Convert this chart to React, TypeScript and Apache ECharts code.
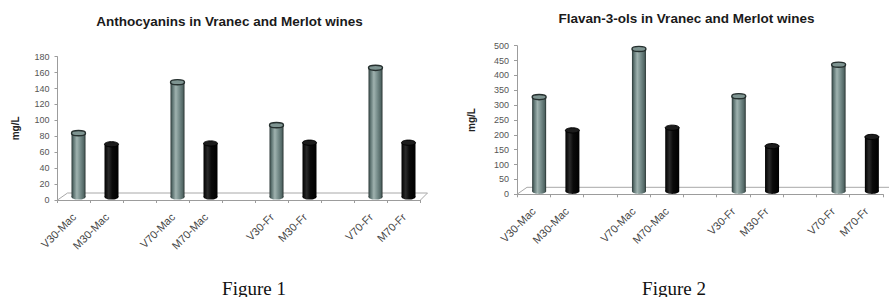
import React, { useEffect, useRef } from "react";
import * as echarts from "echarts";

// ---- data ----
const categories = ["V30-Mac", "M30-Mac", "", "V70-Mac", "M70-Mac", "", "V30-Fr", "M30-Fr", "", "V70-Fr", "M70-Fr"];
const anthocyanins: (number | null)[] = [84, 70, null, 148, 71, null, 94, 72, null, 166, 72];
const flavan3ols: (number | null)[] = [327, 215, null, 489, 224, null, 330, 162, null, 436, 193];
const title1 = "Anthocyanins in Vranec and Merlot wines";
const title2 = "Flavan-3-ols in Vranec and Merlot wines";
const yName = "mg/L";
const fig1 = "Figure 1";
const fig2 = "Figure 2";

const SANS = "'Liberation Sans', Arial, sans-serif";
const SERIF = "'Liberation Serif', 'Times New Roman', serif";

const vGrad = () =>
  new echarts.graphic.LinearGradient(0, 0, 1, 0, [
    { offset: 0, color: "#2b3837" },
    { offset: 0.15, color: "#5f7573" },
    { offset: 0.38, color: "#9fb2af" },
    { offset: 0.62, color: "#788e8c" },
    { offset: 0.88, color: "#526765" },
    { offset: 1, color: "#252f2d" },
  ]);
const mGrad = () =>
  new echarts.graphic.LinearGradient(0, 0, 1, 0, [
    { offset: 0, color: "#000000" },
    { offset: 0.3, color: "#2a2a2a" },
    { offset: 0.55, color: "#0a0a0a" },
    { offset: 1, color: "#000000" },
  ]);

const makeRender = (offset: number) => (params: any, api: any) => {
  const idx = api.value(0);
  const val = api.value(1);
  if (val == null || isNaN(val)) return null;
  const top = api.coord([idx, val]);
  const base = api.coord([idx, 0]);
  const w = 14;
  const ry = 2.6;
  const cx = top[0] + offset;
  const yb = base[1] - 3;
  const yt = top[1];
  const isV = String(categories[idx]).startsWith("V");
  return {
    type: "group",
    children: [
      { type: "rect", shape: { x: cx - w / 2, y: yt, width: w, height: yb - yt }, style: { fill: isV ? vGrad() : mGrad() } },
      { type: "ellipse", shape: { cx, cy: yb, rx: w / 2, ry }, style: { fill: isV ? vGrad() : mGrad() } },
      {
        type: "ellipse",
        shape: { cx, cy: yt, rx: w / 2, ry },
        style: isV
          ? { fill: "#7e9491", stroke: "#26302f", lineWidth: 1.4 }
          : { fill: "#1c1c1c", stroke: "#000", lineWidth: 1 },
      },
    ],
  };
};

const toData = (vals: (number | null)[]) =>
  vals.map((v, i) => (v == null ? null : [i, v])).filter((d) => d !== null);

const G1 = { left: 57.5, top: 56.7, width: 363, height: 143.3 };
const G2 = { left: 517, top: 45.7, width: 366, height: 148.6 };

const axisColor = "#9c9c9c";

const xAxisCfg = (gridIndex: number) => ({
  type: "category",
  gridIndex,
  data: categories,
  boundaryGap: true,
  axisLine: { show: true, lineStyle: { color: axisColor, width: 1 } },
  axisTick: { show: true, length: 3, lineStyle: { color: axisColor }, interval: 0 },
  axisLabel: { interval: 0, rotate: 45, margin: 15, fontSize: 11, color: "#444", fontFamily: SANS },
  splitLine: { show: false },
});

const yAxisCfg = (gridIndex: number, max: number, interval: number, nameGap: number) => ({
  type: "value",
  gridIndex,
  min: 0,
  max,
  interval,
  name: yName,
  nameLocation: "middle",
  nameGap,
  nameTextStyle: { fontSize: 10, fontWeight: "bold", color: "#222", fontFamily: SANS },
  axisLine: { show: true, lineStyle: { color: axisColor, width: 1 } },
  axisTick: { show: true, length: 3, lineStyle: { color: axisColor } },
  axisLabel: { fontSize: 9, color: "#555", margin: 8, fontFamily: SANS },
  splitLine: { show: false },
});

export default function App() {
  const ref = useRef<HTMLDivElement>(null);
  useEffect(() => {
    if (!ref.current) return;
    const chart = echarts.init(ref.current, undefined, { renderer: "svg" });
    const g1b = G1.top + G1.height;
    const g2b = G2.top + G2.height;
    chart.setOption({
      animation: false,
      backgroundColor: "#ffffff",
      grid: [
        { ...G1, containLabel: false, outerBoundsMode: "none" },
        { ...G2, containLabel: false, outerBoundsMode: "none" },
      ],
      xAxis: [xAxisCfg(0), xAxisCfg(1)],
      yAxis: [yAxisCfg(0, 180, 20, 37), yAxisCfg(1, 500, 50, 41)],
      series: [
        { type: "custom", xAxisIndex: 0, yAxisIndex: 0, renderItem: makeRender(4.5), encode: { x: 0, y: 1 }, data: toData(anthocyanins), z: 5 },
        { type: "custom", xAxisIndex: 1, yAxisIndex: 1, renderItem: makeRender(5.5), encode: { x: 0, y: 1 }, data: toData(flavan3ols), z: 5 },
      ],
      graphic: [
        {
          type: "polyline",
          shape: { points: [[G1.left, g1b], [G1.left + 10, g1b - 7], [G1.left + G1.width + 7, g1b - 7], [G1.left + G1.width, g1b]] },
          style: { stroke: "#a8a8a8", fill: "none", lineWidth: 1 },
          z: 1,
        },
        {
          type: "polyline",
          shape: { points: [[G2.left, g2b], [G2.left + 10, g2b - 7], [889, g2b - 7]] },
          style: { stroke: "#a8a8a8", fill: "none", lineWidth: 1 },
          z: 1,
        },
        { type: "text", x: 229.5, y: 21, style: { text: title1, font: `bold 13.5px ${SANS}`, fill: "#1a1a1a", textAlign: "center", textVerticalAlign: "middle" } },
        { type: "text", x: 686.5, y: 18, style: { text: title2, font: `bold 13.5px ${SANS}`, fill: "#1a1a1a", textAlign: "center", textVerticalAlign: "middle" } },
        { type: "text", x: 254, y: 288, style: { text: fig1, font: `19px ${SERIF}`, fill: "#111", textAlign: "center", textVerticalAlign: "middle" } },
        { type: "text", x: 674, y: 288, style: { text: fig2, font: `19px ${SERIF}`, fill: "#111", textAlign: "center", textVerticalAlign: "middle" } },
      ],
    });
    return () => chart.dispose();
  }, []);
  return <div ref={ref} style={{ position: "absolute", left: 0, top: 0, width: 889, height: 297 }} />;
}
